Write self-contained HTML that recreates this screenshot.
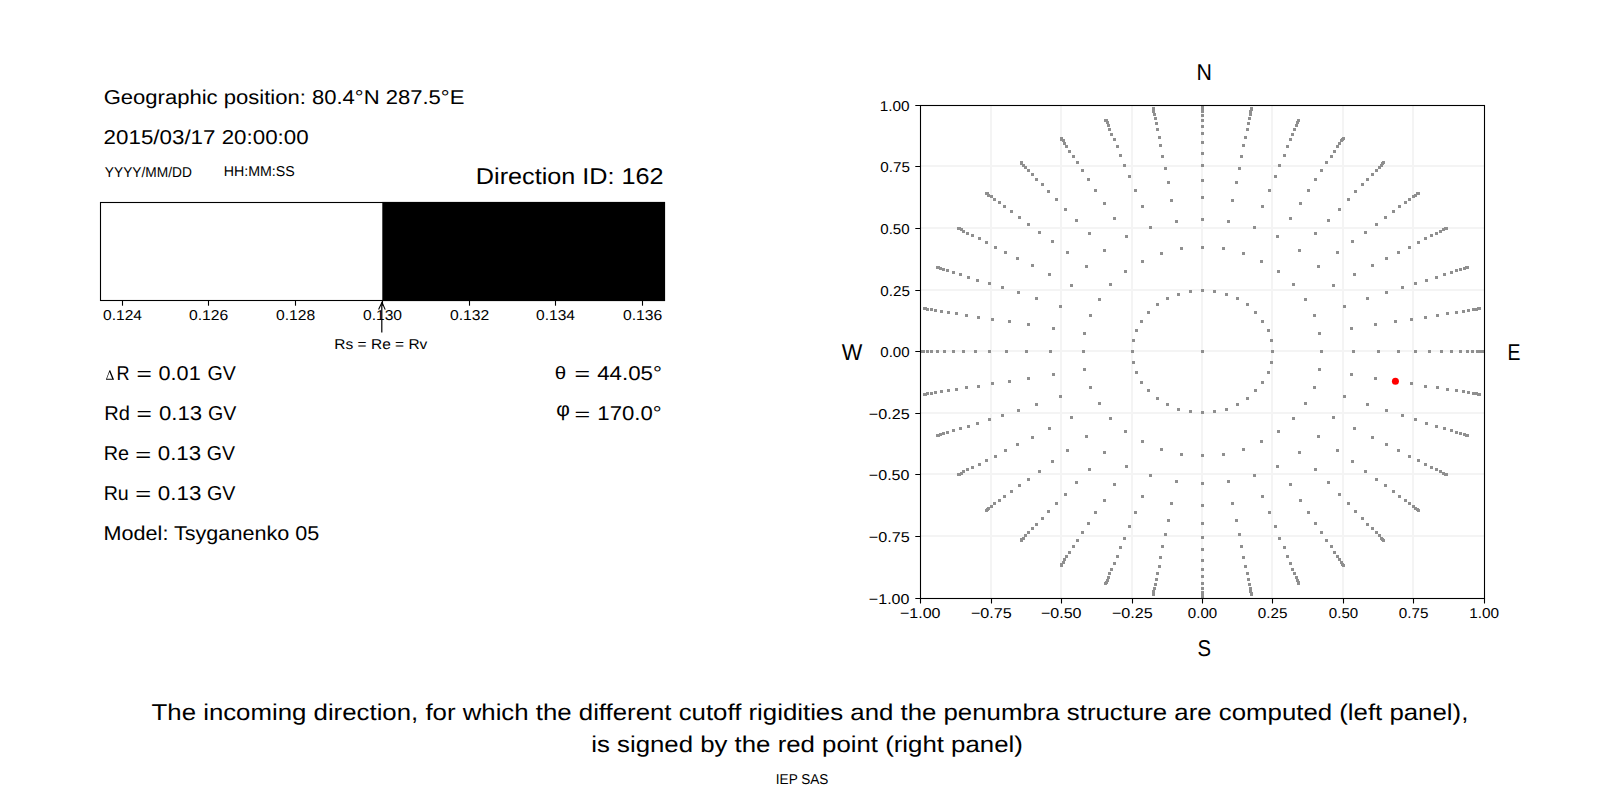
<!DOCTYPE html>
<html><head><meta charset="utf-8"><style>
html,body{margin:0;padding:0;background:#fff;width:1600px;height:800px;overflow:hidden;}
svg{display:block;}
text{font-family:"Liberation Sans",sans-serif;text-rendering:geometricPrecision;}
</style></head><body>
<svg width="1600" height="800" viewBox="0 0 1600 800">
<rect width="1600" height="800" fill="#fff"/>
<text x="103.65" y="103.70" font-size="20.03" textLength="360.72" lengthAdjust="spacingAndGlyphs" font-family="Liberation Sans" fill="#000">Geographic position: 80.4°N 287.5°E</text>
<text x="103.63" y="143.50" font-size="20.03" textLength="205.00" lengthAdjust="spacingAndGlyphs" font-family="Liberation Sans" fill="#000">2015/03/17 20:00:00</text>
<text x="104.86" y="177.10" font-size="14.31" textLength="87.03" lengthAdjust="spacingAndGlyphs" font-family="Liberation Sans" fill="#000">YYYY/MM/DD</text>
<text x="223.75" y="175.90" font-size="14.31" textLength="70.99" lengthAdjust="spacingAndGlyphs" font-family="Liberation Sans" fill="#000">HH:MM:SS</text>
<text x="475.83" y="183.75" font-size="22.89" textLength="187.83" lengthAdjust="spacingAndGlyphs" font-family="Liberation Sans" fill="#000">Direction ID: 162</text>
<rect x="382.3" y="201.95" width="282.74999999999994" height="99.1" fill="#000"/>
<rect x="100.5" y="202.5" width="564.0" height="98.0" fill="none" stroke="#000" stroke-width="1.1"/>
<line x1="122.50" y1="300.5" x2="122.50" y2="305.7" stroke="#000" stroke-width="1.1"/>
<text x="103.00" y="320.00" font-size="14.31" textLength="39.00" lengthAdjust="spacingAndGlyphs" font-family="Liberation Sans" fill="#000">0.124</text>
<line x1="208.50" y1="300.5" x2="208.50" y2="305.7" stroke="#000" stroke-width="1.1"/>
<text x="189.00" y="320.00" font-size="14.31" textLength="39.28" lengthAdjust="spacingAndGlyphs" font-family="Liberation Sans" fill="#000">0.126</text>
<line x1="295.50" y1="300.5" x2="295.50" y2="305.7" stroke="#000" stroke-width="1.1"/>
<text x="276.00" y="320.00" font-size="14.31" textLength="39.28" lengthAdjust="spacingAndGlyphs" font-family="Liberation Sans" fill="#000">0.128</text>
<line x1="382.50" y1="300.5" x2="382.50" y2="305.7" stroke="#000" stroke-width="1.1"/>
<text x="363.00" y="320.00" font-size="14.31" textLength="39.00" lengthAdjust="spacingAndGlyphs" font-family="Liberation Sans" fill="#000">0.130</text>
<line x1="469.50" y1="300.5" x2="469.50" y2="305.7" stroke="#000" stroke-width="1.1"/>
<text x="450.00" y="320.00" font-size="14.31" textLength="39.28" lengthAdjust="spacingAndGlyphs" font-family="Liberation Sans" fill="#000">0.132</text>
<line x1="555.50" y1="300.5" x2="555.50" y2="305.7" stroke="#000" stroke-width="1.1"/>
<text x="536.00" y="320.00" font-size="14.31" textLength="39.00" lengthAdjust="spacingAndGlyphs" font-family="Liberation Sans" fill="#000">0.134</text>
<line x1="642.50" y1="300.5" x2="642.50" y2="305.7" stroke="#000" stroke-width="1.1"/>
<text x="623.00" y="320.00" font-size="14.31" textLength="39.28" lengthAdjust="spacingAndGlyphs" font-family="Liberation Sans" fill="#000">0.136</text>
<path d="M381.8 332.5 V302.6" stroke="#000" stroke-width="1.2" fill="none"/>
<path d="M378.6 309.6 L382 302.3 L385.2 309.6" stroke="#000" stroke-width="1.1" fill="none"/>
<text x="334.39" y="349.00" font-size="14.31" textLength="92.94" lengthAdjust="spacingAndGlyphs" font-family="Liberation Sans" fill="#000">Rs = Re = Rv</text>
<path d="M105.9 379.7L109.5 370.3H110.2L114.1 379.7ZM106.95 378.7L109.47 372.1L112.2 378.7Z" fill="#000" fill-rule="evenodd"/>
<text x="116.59" y="379.60" font-size="20.03" textLength="13.06" lengthAdjust="spacingAndGlyphs" font-family="Liberation Sans" fill="#000">R</text>
<text x="136.55" y="380.36" font-size="18.29" textLength="15.33" lengthAdjust="spacingAndGlyphs" font-family="Liberation Sans" fill="#000">=</text>
<text x="158.59" y="379.60" font-size="20.03" textLength="42.12" lengthAdjust="spacingAndGlyphs" font-family="Liberation Sans" fill="#000">0.01</text>
<text x="207.62" y="379.60" font-size="20.03" textLength="28.33" lengthAdjust="spacingAndGlyphs" font-family="Liberation Sans" fill="#000">GV</text>
<text x="104.20" y="419.50" font-size="20.03" textLength="25.63" lengthAdjust="spacingAndGlyphs" font-family="Liberation Sans" fill="#000">Rd</text>
<text x="136.55" y="420.26" font-size="18.29" textLength="15.33" lengthAdjust="spacingAndGlyphs" font-family="Liberation Sans" fill="#000">=</text>
<text x="159.07" y="419.50" font-size="20.03" textLength="43.06" lengthAdjust="spacingAndGlyphs" font-family="Liberation Sans" fill="#000">0.13</text>
<text x="208.12" y="419.50" font-size="20.03" textLength="28.27" lengthAdjust="spacingAndGlyphs" font-family="Liberation Sans" fill="#000">GV</text>
<text x="103.72" y="459.80" font-size="20.03" textLength="25.30" lengthAdjust="spacingAndGlyphs" font-family="Liberation Sans" fill="#000">Re</text>
<text x="135.30" y="460.56" font-size="18.29" textLength="15.93" lengthAdjust="spacingAndGlyphs" font-family="Liberation Sans" fill="#000">=</text>
<text x="157.76" y="459.80" font-size="20.03" textLength="43.38" lengthAdjust="spacingAndGlyphs" font-family="Liberation Sans" fill="#000">0.13</text>
<text x="206.72" y="459.80" font-size="20.03" textLength="28.22" lengthAdjust="spacingAndGlyphs" font-family="Liberation Sans" fill="#000">GV</text>
<text x="103.73" y="499.65" font-size="20.03" textLength="25.06" lengthAdjust="spacingAndGlyphs" font-family="Liberation Sans" fill="#000">Ru</text>
<text x="135.30" y="500.41" font-size="18.29" textLength="15.93" lengthAdjust="spacingAndGlyphs" font-family="Liberation Sans" fill="#000">=</text>
<text x="157.86" y="499.65" font-size="20.03" textLength="43.48" lengthAdjust="spacingAndGlyphs" font-family="Liberation Sans" fill="#000">0.13</text>
<text x="207.02" y="499.65" font-size="20.03" textLength="28.43" lengthAdjust="spacingAndGlyphs" font-family="Liberation Sans" fill="#000">GV</text>
<text x="103.58" y="539.50" font-size="20.03" textLength="215.63" lengthAdjust="spacingAndGlyphs" font-family="Liberation Sans" fill="#000">Model: Tsyganenko 05</text>
<text x="554.87" y="379.42" font-size="17.89" textLength="11.42" lengthAdjust="spacingAndGlyphs" font-family="Liberation Serif" fill="#000">θ</text>
<text x="574.63" y="380.26" font-size="18.29" textLength="15.57" lengthAdjust="spacingAndGlyphs" font-family="Liberation Sans" fill="#000">=</text>
<text x="597.24" y="379.50" font-size="20.03" textLength="64.61" lengthAdjust="spacingAndGlyphs" font-family="Liberation Sans" fill="#000">44.05°</text>
<text x="556.32" y="415.92" font-size="20.15" textLength="13.62" lengthAdjust="spacingAndGlyphs" font-family="Liberation Serif" fill="#000">φ</text>
<text x="574.62" y="420.26" font-size="17.05" textLength="15.69" lengthAdjust="spacingAndGlyphs" font-family="Liberation Sans" fill="#000">=</text>
<text x="597.34" y="419.70" font-size="20.03" textLength="64.31" lengthAdjust="spacingAndGlyphs" font-family="Liberation Sans" fill="#000">170.0°</text>
<path d="M991.00 105.3V598.35M920.5 166.00H1484.6M1061.00 105.3V598.35M920.5 228.00H1484.6M1132.00 105.3V598.35M920.5 290.00H1484.6M1202.00 105.3V598.35M920.5 351.00H1484.6M1272.00 105.3V598.35M920.5 413.00H1484.6M1343.00 105.3V598.35M920.5 474.00H1484.6M1413.00 105.3V598.35M920.5 536.00H1484.6" stroke="#f4f4f4" stroke-width="2" fill="none"/>
<clipPath id="ax"><rect x="920" y="105" width="564" height="494"/></clipPath>
<path clip-path="url(#ax)" d="M1201 350h3v3h-3zM1271 350h3v3h-3zM1270 339h3v3h-3zM1267 329h3v3h-3zM1261 320h3v3h-3zM1254 311h3v3h-3zM1246 303h3v3h-3zM1236 297h3v3h-3zM1225 293h3v3h-3zM1213 290h3v3h-3zM1201 289h3v3h-3zM1189 290h3v3h-3zM1177 293h3v3h-3zM1166 297h3v3h-3zM1156 303h3v3h-3zM1147 311h3v3h-3zM1140 320h3v3h-3zM1135 329h3v3h-3zM1132 339h3v3h-3zM1131 350h3v3h-3zM1132 361h3v3h-3zM1135 371h3v3h-3zM1140 381h3v3h-3zM1147 389h3v3h-3zM1156 397h3v3h-3zM1166 403h3v3h-3zM1177 408h3v3h-3zM1189 410h3v3h-3zM1201 411h3v3h-3zM1213 410h3v3h-3zM1225 408h3v3h-3zM1236 403h3v3h-3zM1246 397h3v3h-3zM1254 389h3v3h-3zM1261 381h3v3h-3zM1267 371h3v3h-3zM1270 361h3v3h-3zM1320 350h3v3h-3zM1318 332h3v3h-3zM1313 314h3v3h-3zM1304 298h3v3h-3zM1292 283h3v3h-3zM1277 270h3v3h-3zM1260 260h3v3h-3zM1242 252h3v3h-3zM1222 247h3v3h-3zM1201 246h3v3h-3zM1180 247h3v3h-3zM1160 252h3v3h-3zM1141 260h3v3h-3zM1124 270h3v3h-3zM1109 283h3v3h-3zM1098 298h3v3h-3zM1089 314h3v3h-3zM1083 332h3v3h-3zM1082 350h3v3h-3zM1083 368h3v3h-3zM1089 386h3v3h-3zM1098 402h3v3h-3zM1109 417h3v3h-3zM1124 430h3v3h-3zM1141 440h3v3h-3zM1160 448h3v3h-3zM1180 453h3v3h-3zM1201 454h3v3h-3zM1222 453h3v3h-3zM1242 448h3v3h-3zM1260 440h3v3h-3zM1277 430h3v3h-3zM1292 417h3v3h-3zM1304 402h3v3h-3zM1313 386h3v3h-3zM1318 368h3v3h-3zM1352 350h3v3h-3zM1350 327h3v3h-3zM1343 305h3v3h-3zM1332 284h3v3h-3zM1317 265h3v3h-3zM1298 249h3v3h-3zM1276 235h3v3h-3zM1253 226h3v3h-3zM1227 220h3v3h-3zM1201 218h3v3h-3zM1175 220h3v3h-3zM1149 226h3v3h-3zM1125 235h3v3h-3zM1103 249h3v3h-3zM1085 265h3v3h-3zM1070 284h3v3h-3zM1059 305h3v3h-3zM1052 327h3v3h-3zM1049 350h3v3h-3zM1052 373h3v3h-3zM1059 395h3v3h-3zM1070 416h3v3h-3zM1085 435h3v3h-3zM1103 451h3v3h-3zM1125 465h3v3h-3zM1149 474h3v3h-3zM1175 480h3v3h-3zM1201 482h3v3h-3zM1227 480h3v3h-3zM1253 474h3v3h-3zM1276 465h3v3h-3zM1298 451h3v3h-3zM1317 435h3v3h-3zM1332 416h3v3h-3zM1343 395h3v3h-3zM1350 373h3v3h-3zM1377 350h3v3h-3zM1374 323h3v3h-3zM1366 297h3v3h-3zM1353 273h3v3h-3zM1336 251h3v3h-3zM1314 232h3v3h-3zM1289 217h3v3h-3zM1261 205h3v3h-3zM1231 199h3v3h-3zM1201 196h3v3h-3zM1170 199h3v3h-3zM1141 205h3v3h-3zM1113 217h3v3h-3zM1088 232h3v3h-3zM1066 251h3v3h-3zM1048 273h3v3h-3zM1035 297h3v3h-3zM1027 323h3v3h-3zM1025 350h3v3h-3zM1027 377h3v3h-3zM1035 403h3v3h-3zM1048 427h3v3h-3zM1066 449h3v3h-3zM1088 468h3v3h-3zM1113 483h3v3h-3zM1141 495h3v3h-3zM1170 502h3v3h-3zM1201 504h3v3h-3zM1231 502h3v3h-3zM1261 495h3v3h-3zM1289 483h3v3h-3zM1314 468h3v3h-3zM1336 449h3v3h-3zM1353 427h3v3h-3zM1366 403h3v3h-3zM1374 377h3v3h-3zM1397 350h3v3h-3zM1394 320h3v3h-3zM1385 291h3v3h-3zM1371 264h3v3h-3zM1351 240h3v3h-3zM1327 219h3v3h-3zM1299 202h3v3h-3zM1268 189h3v3h-3zM1235 181h3v3h-3zM1201 179h3v3h-3zM1167 181h3v3h-3zM1134 189h3v3h-3zM1103 202h3v3h-3zM1075 219h3v3h-3zM1051 240h3v3h-3zM1031 264h3v3h-3zM1017 291h3v3h-3zM1008 320h3v3h-3zM1005 350h3v3h-3zM1008 380h3v3h-3zM1017 409h3v3h-3zM1031 436h3v3h-3zM1051 460h3v3h-3zM1075 481h3v3h-3zM1103 499h3v3h-3zM1134 511h3v3h-3zM1167 519h3v3h-3zM1201 522h3v3h-3zM1235 519h3v3h-3zM1268 511h3v3h-3zM1299 499h3v3h-3zM1327 481h3v3h-3zM1351 460h3v3h-3zM1371 436h3v3h-3zM1385 409h3v3h-3zM1394 380h3v3h-3zM1414 350h3v3h-3zM1410 318h3v3h-3zM1401 286h3v3h-3zM1385 257h3v3h-3zM1364 231h3v3h-3zM1338 208h3v3h-3zM1307 189h3v3h-3zM1274 175h3v3h-3zM1238 167h3v3h-3zM1201 164h3v3h-3zM1164 167h3v3h-3zM1128 175h3v3h-3zM1094 189h3v3h-3zM1064 208h3v3h-3zM1038 231h3v3h-3zM1016 257h3v3h-3zM1001 286h3v3h-3zM991 318h3v3h-3zM988 350h3v3h-3zM991 382h3v3h-3zM1001 414h3v3h-3zM1016 443h3v3h-3zM1038 470h3v3h-3zM1064 493h3v3h-3zM1094 511h3v3h-3zM1128 525h3v3h-3zM1164 533h3v3h-3zM1201 536h3v3h-3zM1238 533h3v3h-3zM1274 525h3v3h-3zM1307 511h3v3h-3zM1338 493h3v3h-3zM1364 470h3v3h-3zM1385 443h3v3h-3zM1401 414h3v3h-3zM1410 382h3v3h-3zM1428 350h3v3h-3zM1424 316h3v3h-3zM1414 282h3v3h-3zM1397 251h3v3h-3zM1375 223h3v3h-3zM1347 198h3v3h-3zM1314 178h3v3h-3zM1278 164h3v3h-3zM1240 155h3v3h-3zM1201 152h3v3h-3zM1161 155h3v3h-3zM1123 164h3v3h-3zM1087 178h3v3h-3zM1055 198h3v3h-3zM1027 223h3v3h-3zM1004 251h3v3h-3zM988 282h3v3h-3zM977 316h3v3h-3zM974 350h3v3h-3zM977 385h3v3h-3zM988 418h3v3h-3zM1004 449h3v3h-3zM1027 478h3v3h-3zM1055 502h3v3h-3zM1087 522h3v3h-3zM1123 537h3v3h-3zM1161 545h3v3h-3zM1201 548h3v3h-3zM1240 545h3v3h-3zM1278 537h3v3h-3zM1314 522h3v3h-3zM1347 502h3v3h-3zM1375 478h3v3h-3zM1397 449h3v3h-3zM1414 418h3v3h-3zM1424 385h3v3h-3zM1440 350h3v3h-3zM1436 314h3v3h-3zM1425 279h3v3h-3zM1408 246h3v3h-3zM1384 216h3v3h-3zM1354 190h3v3h-3zM1320 169h3v3h-3zM1283 154h3v3h-3zM1242 144h3v3h-3zM1201 141h3v3h-3zM1159 144h3v3h-3zM1119 154h3v3h-3zM1081 169h3v3h-3zM1047 190h3v3h-3zM1018 216h3v3h-3zM994 246h3v3h-3zM976 279h3v3h-3zM965 314h3v3h-3zM962 350h3v3h-3zM965 386h3v3h-3zM976 422h3v3h-3zM994 455h3v3h-3zM1018 484h3v3h-3zM1047 510h3v3h-3zM1081 531h3v3h-3zM1119 546h3v3h-3zM1159 556h3v3h-3zM1201 559h3v3h-3zM1242 556h3v3h-3zM1283 546h3v3h-3zM1320 531h3v3h-3zM1354 510h3v3h-3zM1384 484h3v3h-3zM1408 455h3v3h-3zM1425 422h3v3h-3zM1436 386h3v3h-3zM1450 350h3v3h-3zM1446 312h3v3h-3zM1435 276h3v3h-3zM1417 241h3v3h-3zM1392 210h3v3h-3zM1361 183h3v3h-3zM1325 161h3v3h-3zM1286 145h3v3h-3zM1244 136h3v3h-3zM1201 132h3v3h-3zM1158 136h3v3h-3zM1116 145h3v3h-3zM1076 161h3v3h-3zM1041 183h3v3h-3zM1010 210h3v3h-3zM985 241h3v3h-3zM967 276h3v3h-3zM955 312h3v3h-3zM952 350h3v3h-3zM955 388h3v3h-3zM967 425h3v3h-3zM985 459h3v3h-3zM1010 490h3v3h-3zM1041 517h3v3h-3zM1076 539h3v3h-3zM1116 555h3v3h-3zM1158 565h3v3h-3zM1201 568h3v3h-3zM1244 565h3v3h-3zM1286 555h3v3h-3zM1325 539h3v3h-3zM1361 517h3v3h-3zM1392 490h3v3h-3zM1417 459h3v3h-3zM1435 425h3v3h-3zM1446 388h3v3h-3zM1459 350h3v3h-3zM1455 311h3v3h-3zM1443 273h3v3h-3zM1424 237h3v3h-3zM1398 205h3v3h-3zM1366 178h3v3h-3zM1330 155h3v3h-3zM1289 138h3v3h-3zM1246 128h3v3h-3zM1201 125h3v3h-3zM1156 128h3v3h-3zM1113 138h3v3h-3zM1072 155h3v3h-3zM1035 178h3v3h-3zM1003 205h3v3h-3zM978 237h3v3h-3zM959 273h3v3h-3zM947 311h3v3h-3zM943 350h3v3h-3zM947 389h3v3h-3zM959 427h3v3h-3zM978 463h3v3h-3zM1003 495h3v3h-3zM1035 523h3v3h-3zM1072 545h3v3h-3zM1113 562h3v3h-3zM1156 572h3v3h-3zM1201 575h3v3h-3zM1246 572h3v3h-3zM1289 562h3v3h-3zM1330 545h3v3h-3zM1366 523h3v3h-3zM1398 495h3v3h-3zM1424 463h3v3h-3zM1443 427h3v3h-3zM1455 389h3v3h-3zM1466 350h3v3h-3zM1462 310h3v3h-3zM1450 271h3v3h-3zM1430 234h3v3h-3zM1404 201h3v3h-3zM1371 173h3v3h-3zM1333 150h3v3h-3zM1291 133h3v3h-3zM1247 122h3v3h-3zM1201 119h3v3h-3zM1155 122h3v3h-3zM1110 133h3v3h-3zM1068 150h3v3h-3zM1031 173h3v3h-3zM998 201h3v3h-3zM971 234h3v3h-3zM952 271h3v3h-3zM940 310h3v3h-3zM936 350h3v3h-3zM940 390h3v3h-3zM952 429h3v3h-3zM971 466h3v3h-3zM998 499h3v3h-3zM1031 527h3v3h-3zM1068 551h3v3h-3zM1110 568h3v3h-3zM1155 578h3v3h-3zM1201 582h3v3h-3zM1247 578h3v3h-3zM1291 568h3v3h-3zM1333 551h3v3h-3zM1371 527h3v3h-3zM1404 499h3v3h-3zM1430 466h3v3h-3zM1450 429h3v3h-3zM1462 390h3v3h-3zM1471 350h3v3h-3zM1467 309h3v3h-3zM1455 269h3v3h-3zM1435 232h3v3h-3zM1408 198h3v3h-3zM1375 169h3v3h-3zM1336 145h3v3h-3zM1293 128h3v3h-3zM1248 117h3v3h-3zM1201 114h3v3h-3zM1154 117h3v3h-3zM1108 128h3v3h-3zM1065 145h3v3h-3zM1027 169h3v3h-3zM993 198h3v3h-3zM966 232h3v3h-3zM946 269h3v3h-3zM934 309h3v3h-3zM930 350h3v3h-3zM934 391h3v3h-3zM946 431h3v3h-3zM966 468h3v3h-3zM993 502h3v3h-3zM1027 531h3v3h-3zM1065 555h3v3h-3zM1108 572h3v3h-3zM1154 583h3v3h-3zM1201 587h3v3h-3zM1248 583h3v3h-3zM1293 572h3v3h-3zM1336 555h3v3h-3zM1375 531h3v3h-3zM1408 502h3v3h-3zM1435 468h3v3h-3zM1455 431h3v3h-3zM1467 391h3v3h-3zM1476 350h3v3h-3zM1472 308h3v3h-3zM1459 268h3v3h-3zM1439 230h3v3h-3zM1412 195h3v3h-3zM1378 166h3v3h-3zM1338 142h3v3h-3zM1295 124h3v3h-3zM1249 113h3v3h-3zM1201 110h3v3h-3zM1153 113h3v3h-3zM1107 124h3v3h-3zM1063 142h3v3h-3zM1024 166h3v3h-3zM990 195h3v3h-3zM962 230h3v3h-3zM942 268h3v3h-3zM930 308h3v3h-3zM926 350h3v3h-3zM930 392h3v3h-3zM942 432h3v3h-3zM962 470h3v3h-3zM990 505h3v3h-3zM1024 534h3v3h-3zM1063 558h3v3h-3zM1107 576h3v3h-3zM1153 587h3v3h-3zM1201 591h3v3h-3zM1249 587h3v3h-3zM1295 576h3v3h-3zM1338 558h3v3h-3zM1378 534h3v3h-3zM1412 505h3v3h-3zM1439 470h3v3h-3zM1459 432h3v3h-3zM1472 392h3v3h-3zM1479 350h3v3h-3zM1475 308h3v3h-3zM1463 267h3v3h-3zM1442 228h3v3h-3zM1414 194h3v3h-3zM1380 164h3v3h-3zM1340 139h3v3h-3zM1296 121h3v3h-3zM1249 110h3v3h-3zM1201 107h3v3h-3zM1152 110h3v3h-3zM1106 121h3v3h-3zM1062 139h3v3h-3zM1022 164h3v3h-3zM987 194h3v3h-3zM960 228h3v3h-3zM939 267h3v3h-3zM926 308h3v3h-3zM922 350h3v3h-3zM926 392h3v3h-3zM939 433h3v3h-3zM960 472h3v3h-3zM987 507h3v3h-3zM1022 537h3v3h-3zM1062 561h3v3h-3zM1106 579h3v3h-3zM1152 590h3v3h-3zM1201 594h3v3h-3zM1249 590h3v3h-3zM1296 579h3v3h-3zM1340 561h3v3h-3zM1380 537h3v3h-3zM1414 507h3v3h-3zM1442 472h3v3h-3zM1463 433h3v3h-3zM1475 392h3v3h-3zM1482 350h3v3h-3zM1477 307h3v3h-3zM1465 266h3v3h-3zM1444 227h3v3h-3zM1416 192h3v3h-3zM1381 162h3v3h-3zM1341 138h3v3h-3zM1297 119h3v3h-3zM1250 108h3v3h-3zM1201 105h3v3h-3zM1152 108h3v3h-3zM1105 119h3v3h-3zM1060 138h3v3h-3zM1020 162h3v3h-3zM986 192h3v3h-3zM958 227h3v3h-3zM937 266h3v3h-3zM924 307h3v3h-3zM920 350h3v3h-3zM924 393h3v3h-3zM937 434h3v3h-3zM958 473h3v3h-3zM986 508h3v3h-3zM1020 538h3v3h-3zM1060 563h3v3h-3zM1105 581h3v3h-3zM1152 592h3v3h-3zM1201 596h3v3h-3zM1250 592h3v3h-3zM1297 581h3v3h-3zM1341 563h3v3h-3zM1381 538h3v3h-3zM1416 508h3v3h-3zM1444 473h3v3h-3zM1465 434h3v3h-3zM1477 393h3v3h-3zM1483 350h3v3h-3zM1478 307h3v3h-3zM1466 266h3v3h-3zM1445 227h3v3h-3zM1417 192h3v3h-3zM1382 161h3v3h-3zM1342 137h3v3h-3zM1297 119h3v3h-3zM1250 107h3v3h-3zM1201 104h3v3h-3zM1152 107h3v3h-3zM1104 119h3v3h-3zM1060 137h3v3h-3zM1020 161h3v3h-3zM985 192h3v3h-3zM957 227h3v3h-3zM936 266h3v3h-3zM923 307h3v3h-3zM919 350h3v3h-3zM923 393h3v3h-3zM936 434h3v3h-3zM957 473h3v3h-3zM985 509h3v3h-3zM1020 539h3v3h-3zM1060 564h3v3h-3zM1104 582h3v3h-3zM1152 593h3v3h-3zM1201 597h3v3h-3zM1250 593h3v3h-3zM1297 582h3v3h-3zM1342 564h3v3h-3zM1382 539h3v3h-3zM1417 509h3v3h-3zM1445 473h3v3h-3zM1466 434h3v3h-3zM1478 393h3v3h-3z" fill="#8f8f8f"/>
<circle cx="1395.42" cy="381.37" r="3.5" fill="#ff0000"/>
<rect x="920.5" y="105.5" width="564" height="493" fill="none" stroke="#000" stroke-width="1.1"/>
<text x="899.96" y="617.80" font-size="14.31" textLength="40.59" lengthAdjust="spacingAndGlyphs" font-family="Liberation Sans" fill="#000">−1.00</text>
<text x="868.86" y="604.30" font-size="14.31" textLength="40.59" lengthAdjust="spacingAndGlyphs" font-family="Liberation Sans" fill="#000">−1.00</text>
<text x="970.95" y="617.80" font-size="14.31" textLength="40.88" lengthAdjust="spacingAndGlyphs" font-family="Liberation Sans" fill="#000">−0.75</text>
<text x="868.85" y="542.30" font-size="14.31" textLength="40.88" lengthAdjust="spacingAndGlyphs" font-family="Liberation Sans" fill="#000">−0.75</text>
<text x="1040.96" y="617.80" font-size="14.31" textLength="40.59" lengthAdjust="spacingAndGlyphs" font-family="Liberation Sans" fill="#000">−0.50</text>
<text x="868.86" y="480.30" font-size="14.31" textLength="40.59" lengthAdjust="spacingAndGlyphs" font-family="Liberation Sans" fill="#000">−0.50</text>
<text x="1111.95" y="617.80" font-size="14.31" textLength="40.88" lengthAdjust="spacingAndGlyphs" font-family="Liberation Sans" fill="#000">−0.25</text>
<text x="868.85" y="419.30" font-size="14.31" textLength="40.88" lengthAdjust="spacingAndGlyphs" font-family="Liberation Sans" fill="#000">−0.25</text>
<text x="1187.82" y="617.80" font-size="14.31" textLength="29.35" lengthAdjust="spacingAndGlyphs" font-family="Liberation Sans" fill="#000">0.00</text>
<text x="880.27" y="357.30" font-size="14.31" textLength="29.35" lengthAdjust="spacingAndGlyphs" font-family="Liberation Sans" fill="#000">0.00</text>
<text x="1257.82" y="617.80" font-size="14.31" textLength="29.62" lengthAdjust="spacingAndGlyphs" font-family="Liberation Sans" fill="#000">0.25</text>
<text x="880.27" y="296.30" font-size="14.31" textLength="29.62" lengthAdjust="spacingAndGlyphs" font-family="Liberation Sans" fill="#000">0.25</text>
<text x="1328.82" y="617.80" font-size="14.31" textLength="29.35" lengthAdjust="spacingAndGlyphs" font-family="Liberation Sans" fill="#000">0.50</text>
<text x="880.27" y="234.30" font-size="14.31" textLength="29.35" lengthAdjust="spacingAndGlyphs" font-family="Liberation Sans" fill="#000">0.50</text>
<text x="1398.82" y="617.80" font-size="14.31" textLength="29.62" lengthAdjust="spacingAndGlyphs" font-family="Liberation Sans" fill="#000">0.75</text>
<text x="880.27" y="172.30" font-size="14.31" textLength="29.62" lengthAdjust="spacingAndGlyphs" font-family="Liberation Sans" fill="#000">0.75</text>
<text x="1469.27" y="617.80" font-size="14.31" textLength="29.90" lengthAdjust="spacingAndGlyphs" font-family="Liberation Sans" fill="#000">1.00</text>
<text x="879.72" y="111.30" font-size="14.31" textLength="29.90" lengthAdjust="spacingAndGlyphs" font-family="Liberation Sans" fill="#000">1.00</text>
<path d="M920.50 598.35v5.2M920.5 598.50h-5.2M991.50 598.35v5.2M920.5 536.50h-5.2M1061.50 598.35v5.2M920.5 474.50h-5.2M1132.50 598.35v5.2M920.5 413.50h-5.2M1202.50 598.35v5.2M920.5 351.50h-5.2M1272.50 598.35v5.2M920.5 290.50h-5.2M1343.50 598.35v5.2M920.5 228.50h-5.2M1413.50 598.35v5.2M920.5 166.50h-5.2M1484.50 598.35v5.2M920.5 105.50h-5.2" stroke="#000" stroke-width="1.1" fill="none"/>
<text x="1196.53" y="79.70" font-size="22.89" textLength="15.40" lengthAdjust="spacingAndGlyphs" font-family="Liberation Sans" fill="#000">N</text>
<text x="1197.52" y="655.80" font-size="22.89" textLength="13.55" lengthAdjust="spacingAndGlyphs" font-family="Liberation Sans" fill="#000">S</text>
<text x="841.80" y="359.70" font-size="22.89" textLength="20.55" lengthAdjust="spacingAndGlyphs" font-family="Liberation Sans" fill="#000">W</text>
<text x="1507.52" y="359.70" font-size="22.89" textLength="12.93" lengthAdjust="spacingAndGlyphs" font-family="Liberation Sans" fill="#000">E</text>
<text x="151.54" y="720.00" font-size="22.89" textLength="1316.78" lengthAdjust="spacingAndGlyphs" font-family="Liberation Sans" fill="#000">The incoming direction, for which the different cutoff rigidities and the penumbra structure are computed (left panel),</text>
<text x="591.22" y="751.50" font-size="22.89" textLength="431.62" lengthAdjust="spacingAndGlyphs" font-family="Liberation Sans" fill="#000">is signed by the red point (right panel)</text>
<text x="775.81" y="784.00" font-size="14.31" textLength="52.64" lengthAdjust="spacingAndGlyphs" font-family="Liberation Sans" fill="#000">IEP SAS</text>
</svg>
</body></html>
